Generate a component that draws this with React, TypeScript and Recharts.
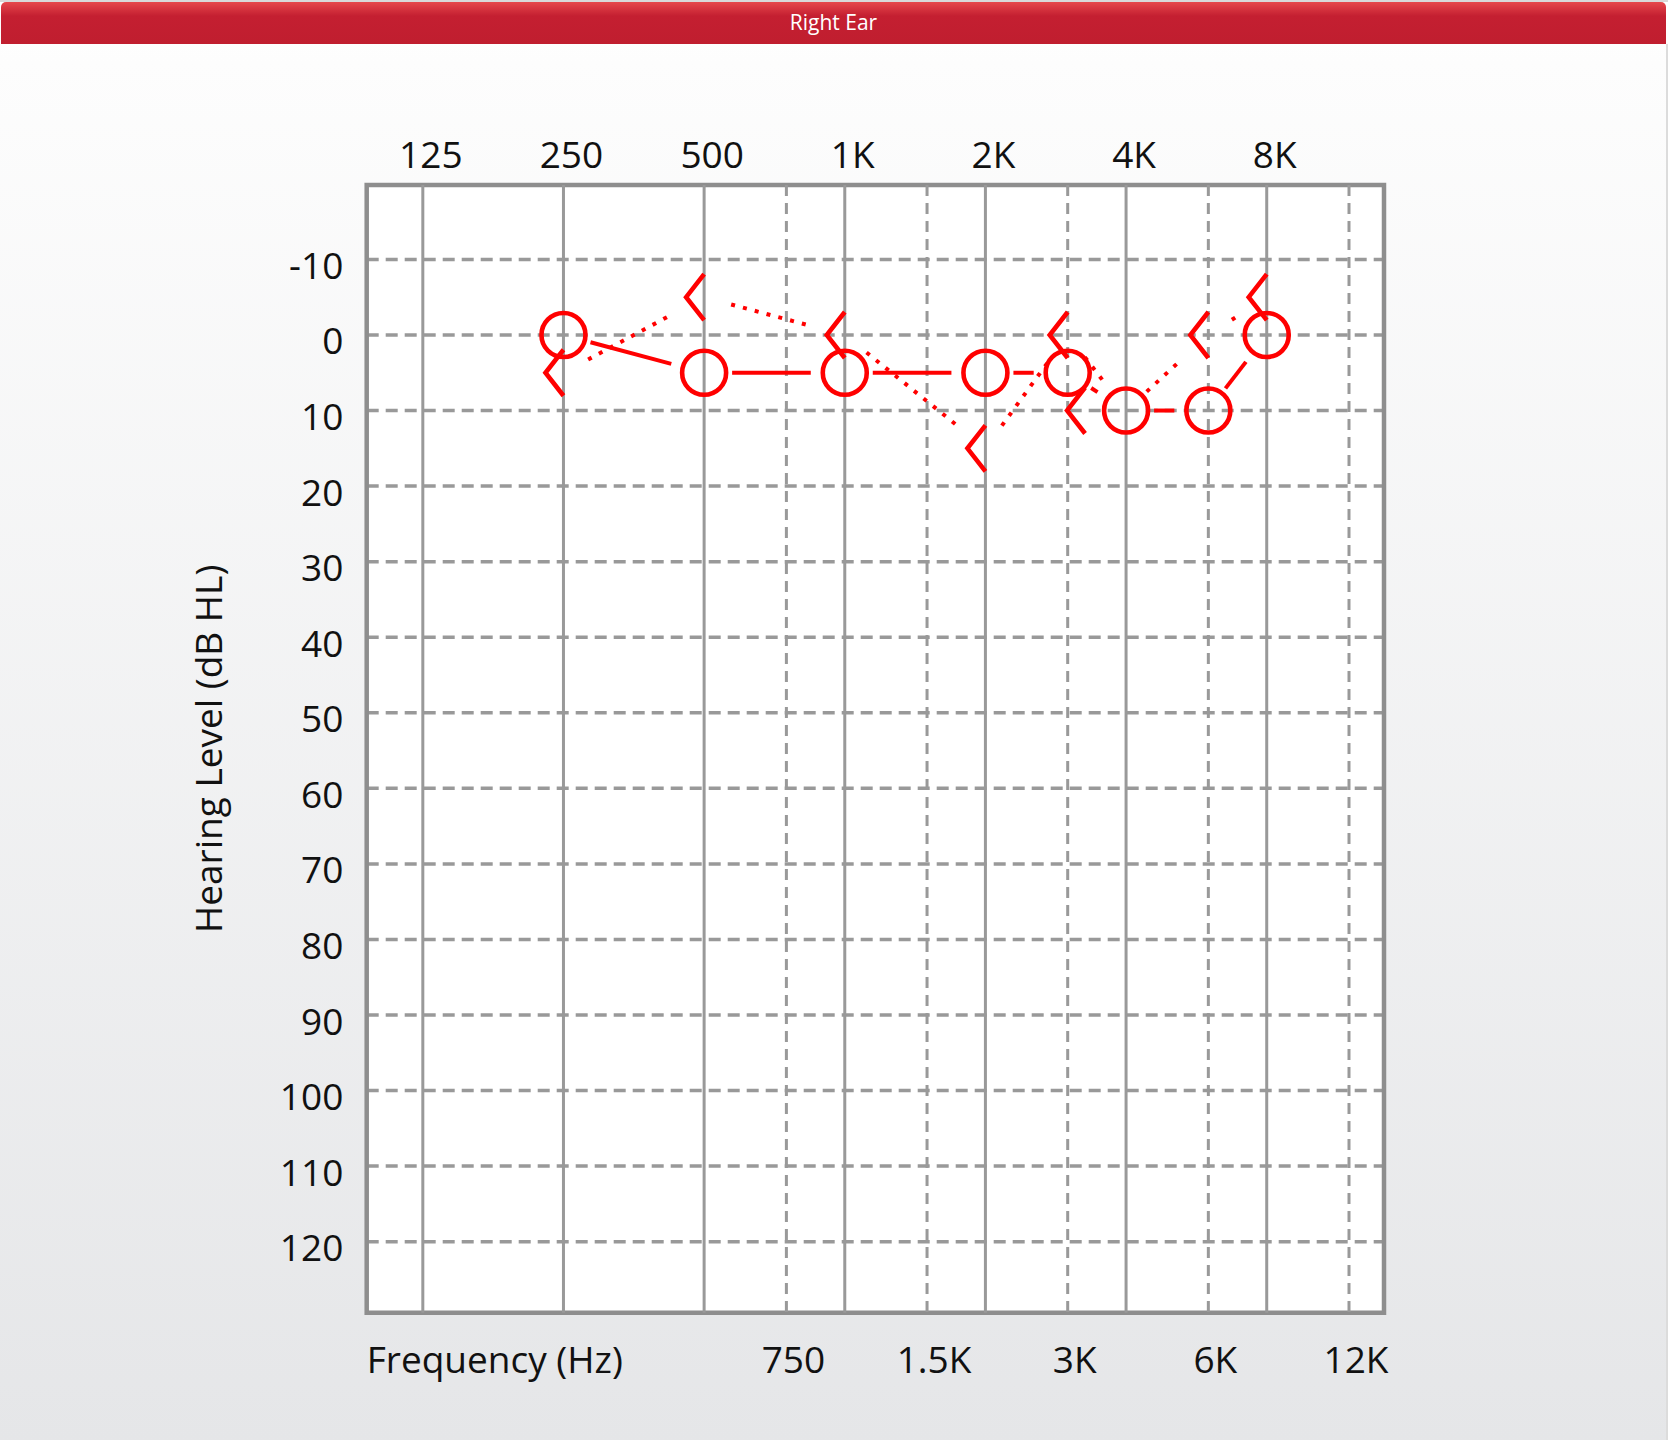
import React from 'react';
import {
  LineChart,
  Line,
  XAxis,
  YAxis,
  CartesianGrid,
  ReferenceLine,
  ReferenceArea,
} from 'recharts';

// ---------- data ----------
const frequencies = [250, 500, 1000, 2000, 3000, 4000, 6000, 8000];
const airConduction = [0, 5, 5, 5, 5, 10, 10, 0];
const boneConduction = [5, -5, 0, 15, 0, 10, 0, -5];

const octaveTicks = [125, 250, 500, 1000, 2000, 4000, 8000];
const octaveLabels = ['125', '250', '500', '1K', '2K', '4K', '8K'];
const interOctaveTicks = [750, 1500, 3000, 6000, 12000];
const interOctaveLabels = ['750', '1.5K', '3K', '6K', '12K'];
const levelTicks = [-10, 0, 10, 20, 30, 40, 50, 60, 70, 80, 90, 100, 110, 120];

const xDomain = [94.8, 14259];
const yDomain = [-19.85, 129.4];

const rows = frequencies.map((f, i) => ({
  freq: f,
  ac: airConduction[i],
  bc: boneConduction[i],
}));

// ---------- style ----------
const RED = '#ff0000';
const GRID = '#999999';
const FONT = '"Open Sans", "Noto Sans", sans-serif';
const FS = 37;

type Pt = { x: number; y: number };

function trimSeg(p: Pt, q: Pt, a: number, b: number) {
  const dx = q.x - p.x;
  const dy = q.y - p.y;
  const len = Math.hypot(dx, dy);
  if (!isFinite(len) || len <= a + b) return null;
  const ux = dx / len;
  const uy = dy / len;
  return { x1: p.x + ux * a, y1: p.y + uy * a, x2: q.x - ux * b, y2: q.y - uy * b };
}

const AcDot = (props: any) => {
  const { cx, cy, index, points } = props;
  if (cx == null || cy == null) return <g key={`ac-${index}`} />;
  const next = points && points[index + 1];
  const seg = next ? trimSeg({ x: cx, y: cy }, next, 28, 34) : null;
  return (
    <g key={`ac-${index}`}>
      {seg && (
        <line x1={seg.x1} y1={seg.y1} x2={seg.x2} y2={seg.y2} stroke={RED} strokeWidth={4} />
      )}
      <circle cx={cx} cy={cy} r={22} fill="none" stroke={RED} strokeWidth={4.6} />
    </g>
  );
};

const BcDot = (props: any) => {
  const { cx, cy, index, points, payload } = props;
  if (cx == null || cy == null) return <g key={`bc-${index}`} />;
  const next = points && points[index + 1];
  const seg = next ? trimSeg({ x: cx, y: cy }, next, 28, 35) : null;
  // move the symbol aside when it coincides with the air-conduction circle
  const shift = payload && payload.ac === payload.bc ? 41 : 0;
  const tx = cx - shift;
  return (
    <g key={`bc-${index}`}>
      {seg && (
        <line
          x1={seg.x1}
          y1={seg.y1}
          x2={seg.x2}
          y2={seg.y2}
          stroke={RED}
          strokeWidth={4}
          strokeDasharray="4 8.2"
        />
      )}
      <path
        d={`M${tx},${cy - 23} L${tx - 18},${cy} L${tx},${cy + 23}`}
        fill="none"
        stroke={RED}
        strokeWidth={4.6}
        strokeLinejoin="miter"
      />
    </g>
  );
};

const TopTick = (props: any) => {
  const { x, y, payload } = props;
  const i = octaveTicks.indexOf(payload.value);
  return (
    <text x={x + 8} y={y - 16.7} textAnchor="middle" fontSize={FS} fontFamily={FONT} fill="#111">
      {octaveLabels[i]}
    </text>
  );
};

const BottomTick = (props: any) => {
  const { x, y, payload } = props;
  const i = interOctaveTicks.indexOf(payload.value);
  return (
    <text x={x + 7} y={y + 60} textAnchor="middle" fontSize={FS} fontFamily={FONT} fill="#111">
      {interOctaveLabels[i]}
    </text>
  );
};

const LeftTick = (props: any) => {
  const { x, y, payload } = props;
  return (
    <text x={x - 23.4} y={y + 19.5} textAnchor="end" fontSize={FS} fontFamily={FONT} fill="#111">
      {String(payload.value)}
    </text>
  );
};

const renderXTitle = (props: any) => {
  const vb = props.viewBox || { x: 366.7, y: 1312.7 };
  return (
    <text x={vb.x} y={vb.y + 60} textAnchor="start" fontSize={FS} fontFamily={FONT} fill="#111">
      Frequency (Hz)
    </text>
  );
};

const renderYTitle = (props: any) => {
  const vb = props.viewBox || { x: 166.7, y: 185, width: 200, height: 1127.7 };
  const tx = vb.x + 55;
  const ty = vb.y + vb.height / 2;
  return (
    <text
      x={tx}
      y={ty}
      transform={`rotate(-90, ${tx}, ${ty})`}
      textAnchor="middle"
      fontSize={FS}
      fontFamily={FONT}
      fill="#111"
    >
      Hearing Level (dB HL)
    </text>
  );
};

export default function App() {
  return (
    <div
      style={{
        position: 'absolute',
        left: 0,
        top: 0,
        width: 1668,
        height: 1440,
        overflow: 'hidden',
        background: 'linear-gradient(to bottom, #ffffff 0px, #fdfdfd 60px, #e5e6e8 1440px)',
        borderTop: '2px solid #d9d9d9',
        boxSizing: 'border-box',
        fontFamily: FONT,
      }}
    >
      <div
        style={{
          position: 'absolute',
          left: 1,
          top: 0,
          width: 1665,
          height: 42,
          borderRadius: '5px 5px 0 0',
          background: 'linear-gradient(to bottom, #e6474b 0px, #c41f31 14px, #c01e2f 42px)',
          color: '#ffffff',
          fontSize: 21,
          lineHeight: '40px',
          textAlign: 'center',
          fontFamily: FONT,
        }}
      >
        Right Ear
      </div>
      <div
        style={{
          position: 'absolute',
          right: 0,
          top: 42,
          width: 2,
          height: 1400,
          background: '#dcdcdc',
        }}
      />
      <div style={{ position: 'absolute', left: 0, top: -2, width: 1668, height: 1440 }}>
        <LineChart
          width={1668}
          height={1440}
          data={rows}
          margin={{ top: 125, right: 284, bottom: 47.3, left: 166.7 }}
        >
          <CartesianGrid
            vertical={false}
            fill="#ffffff"
            stroke={GRID}
            strokeWidth={3.5}
            strokeDasharray="12 7"
          />
          {octaveTicks.map((f) => (
            <ReferenceLine key={`o-${f}`} x={f} stroke={GRID} strokeWidth={3} />
          ))}
          {interOctaveTicks.map((f) => (
            <ReferenceLine
              key={`i-${f}`}
              x={f}
              stroke={GRID}
              strokeWidth={3}
              strokeDasharray="11 7"
            />
          ))}
          <ReferenceArea
            x1={xDomain[0]}
            x2={xDomain[1]}
            y1={yDomain[0]}
            y2={yDomain[1]}
            fill="none"
            fillOpacity={0}
            stroke="#8e8e8e"
            strokeWidth={4.5}
            ifOverflow="visible"
          />
          <XAxis
            dataKey="freq"
            type="number"
            scale="log"
            orientation="top"
            domain={xDomain}
            allowDataOverflow
            ticks={octaveTicks}
            interval={0}
            height={60}
            tickLine={false}
            axisLine={false}
            tickSize={0}
            tickMargin={0}
            tick={<TopTick />}
          />
          <XAxis
            xAxisId="bottom"
            dataKey="freq"
            type="number"
            scale="log"
            orientation="bottom"
            domain={xDomain}
            allowDataOverflow
            ticks={interOctaveTicks}
            interval={0}
            height={80}
            tickLine={false}
            axisLine={false}
            tickSize={0}
            tickMargin={0}
            tick={<BottomTick />}
            label={{ value: 'Frequency (Hz)', content: renderXTitle }}
          />
          <YAxis
            type="number"
            domain={yDomain}
            reversed
            allowDataOverflow
            ticks={levelTicks}
            interval={0}
            width={200}
            tickLine={false}
            axisLine={false}
            tickSize={0}
            tickMargin={0}
            tick={<LeftTick />}
            label={{ value: 'Hearing Level (dB HL)', content: renderYTitle }}
          />
          <Line
            dataKey="bc"
            stroke="none"
            strokeWidth={0}
            dot={<BcDot />}
            activeDot={false}
            isAnimationActive={false}
          />
          <Line
            dataKey="ac"
            stroke="none"
            strokeWidth={0}
            dot={<AcDot />}
            activeDot={false}
            isAnimationActive={false}
          />
        </LineChart>
      </div>
    </div>
  );
}
